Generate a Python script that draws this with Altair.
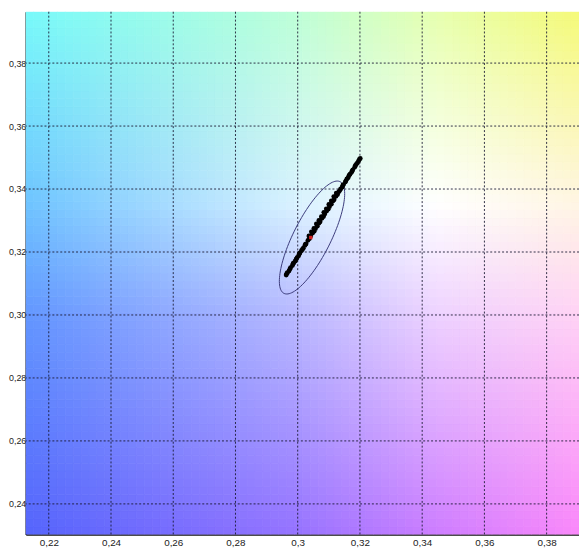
import altair as alt
import numpy as np
import pandas as pd

# ---- axis ranges / ticks ----
X_MIN, X_MAX = 0.2126, 0.3904
Y_MIN, Y_MAX = 0.2303, 0.3963
x_ticks = [0.22, 0.24, 0.26, 0.28, 0.30, 0.32, 0.34, 0.36, 0.38]
y_ticks = [0.24, 0.26, 0.28, 0.30, 0.32, 0.34, 0.36, 0.38]

# ---- measured chromaticity points ----
pts_x = [0.2963, 0.2967, 0.2972, 0.2977, 0.2983, 0.2987, 0.2992, 0.2998, 0.3003, 0.3007,
         0.3012, 0.3018, 0.3023, 0.3027, 0.3033, 0.3038, 0.3042, 0.3048, 0.3053, 0.3057,
         0.3063, 0.3068, 0.3072, 0.3078, 0.3083, 0.3087, 0.3093, 0.3098, 0.3102, 0.3108,
         0.3113, 0.3117, 0.3123, 0.3128, 0.3132, 0.3138, 0.3143, 0.3147, 0.3153, 0.3158,
         0.3162, 0.3168, 0.3173, 0.3177, 0.3183, 0.3188, 0.3192, 0.3198, 0.3201,
         0.3036, 0.3044, 0.3052, 0.3060, 0.3068, 0.3076, 0.3084, 0.3092, 0.3100, 0.3108,
         0.3116, 0.3124,
         0.2965, 0.2975, 0.2985, 0.2995, 0.3005, 0.3015, 0.3025, 0.3135, 0.3145, 0.3155,
         0.3165, 0.3175, 0.3185, 0.3195]
pts_y = [0.3127, 0.3134, 0.3140, 0.3150, 0.3157, 0.3165, 0.3171, 0.3182, 0.3188, 0.3197,
         0.3204, 0.3212, 0.3221, 0.3226, 0.3237, 0.3243, 0.3251, 0.3260, 0.3266, 0.3274,
         0.3282, 0.3291, 0.3296, 0.3307, 0.3313, 0.3321, 0.3330, 0.3336, 0.3344, 0.3352,
         0.3362, 0.3366, 0.3377, 0.3383, 0.3391, 0.3400, 0.3406, 0.3414, 0.3422, 0.3432,
         0.3436, 0.3447, 0.3453, 0.3461, 0.3469, 0.3478, 0.3483, 0.3494, 0.3497,
         0.3251, 0.3264, 0.3275, 0.3289, 0.3300, 0.3312, 0.3326, 0.3337, 0.3351, 0.3362,
         0.3376, 0.3387,
         0.3132, 0.3146, 0.3163, 0.3177, 0.3194, 0.3208, 0.3225, 0.3395, 0.3412, 0.3426,
         0.3443, 0.3457, 0.3474, 0.3488]

# mean point
mean_x = [0.3042]
mean_y = [0.3246]

# ellipse parameters (centre, semi-axes, angle in degrees)
ell_cx, ell_cy = 0.3046, 0.3246
ell_a, ell_b = 0.0199, 0.0060
ell_angle = 63.0

# ---- background colour anchors ----
bg_xs = [X_MIN, 0.30, 0.345, X_MAX]
bg_ys = [Y_MIN, 0.30, 0.335, Y_MAX]
bg_cols = [
    [(85, 100, 252), (150, 115, 255), (205, 125, 255), (250, 135, 250)],
    [(98, 150, 255), (185, 185, 255), (238, 210, 255), (255, 210, 245)],
    [(110, 195, 255), (218, 242, 255), (255, 255, 255), (255, 245, 228)],
    [(120, 250, 250), (190, 255, 215), (230, 255, 175), (245, 250, 120)],
]

cols = np.array(bg_cols, dtype=float)
nx, ny = 70, 66
ex = np.linspace(X_MIN, X_MAX, nx + 1)
ey = np.linspace(Y_MIN, Y_MAX, ny + 1)
rows = []
for j in range(ny):
    yc = 0.5 * (ey[j] + ey[j + 1])
    for i in range(nx):
        xc = 0.5 * (ex[i] + ex[i + 1])
        rgb = np.zeros(3)
        for c in range(3):
            tmp = np.array([np.interp(xc, bg_xs, cols[r, :, c]) for r in range(4)])
            rgb[c] = np.interp(yc, bg_ys, tmp)
        hexc = "#%02x%02x%02x" % tuple(int(round(v)) for v in np.clip(rgb, 0, 255))
        rows.append({"x": ex[i], "x2": ex[i + 1], "y": ey[j], "y2": ey[j + 1], "c": hexc})
bg_df = pd.DataFrame(rows)

t = np.linspace(0, 2 * np.pi, 121)
th = np.deg2rad(ell_angle)
ell_df = pd.DataFrame({
    "x": ell_cx + ell_a * np.cos(t) * np.cos(th) - ell_b * np.sin(t) * np.sin(th),
    "y": ell_cy + ell_a * np.cos(t) * np.sin(th) + ell_b * np.sin(t) * np.cos(th),
    "o": np.arange(len(t)),
})

pts_df = pd.DataFrame({"x": pts_x, "y": pts_y})
mean_df = pd.DataFrame({"x": mean_x, "y": mean_y})
xt_df = pd.DataFrame({"v": x_ticks})
yt_df = pd.DataFrame({"v": y_ticks})

xs = alt.Scale(domain=[X_MIN, X_MAX], nice=False, zero=False)
ys = alt.Scale(domain=[Y_MIN, Y_MAX], nice=False, zero=False)
font = "Liberation Sans"
xaxis = alt.Axis(values=x_ticks, grid=False, ticks=False, labelPadding=3,
                 labelExpr="replace(format(datum.value, '~g'), '.', ',')",
                 labelFont=font, labelFontSize=10, labelColor="#222222",
                 domainColor="#111111", domainWidth=1.5, title=None)
yaxis = alt.Axis(values=y_ticks, grid=False, ticks=False, labelPadding=0,
                 labelExpr="replace(format(datum.value, '.2f'), '.', ',')",
                 labelFont=font, labelFontSize=9, labelColor="#222222",
                 domainColor="#111111", domainWidth=1.5, title=None)

bg = alt.Chart(bg_df).mark_rect(strokeWidth=0.8, clip=True).encode(
    x=alt.X("x:Q", scale=xs, axis=xaxis),
    x2="x2:Q",
    y=alt.Y("y:Q", scale=ys, axis=yaxis),
    y2="y2:Q",
    fill=alt.Fill("c:N", scale=None),
    stroke=alt.Stroke("c:N", scale=None),
)

vgrid = alt.Chart(xt_df).mark_rule(color="#1a1a33", strokeDash=[2, 2], strokeWidth=1, opacity=0.9).encode(
    x=alt.X("v:Q", scale=xs, axis=xaxis)
)
hgrid = alt.Chart(yt_df).mark_rule(color="#1a1a33", strokeDash=[2, 2], strokeWidth=1, opacity=0.9).encode(
    y=alt.Y("v:Q", scale=ys, axis=yaxis)
)

ell = alt.Chart(ell_df).mark_line(color="#3a3a7a", strokeWidth=1, clip=True).encode(
    x=alt.X("x:Q", scale=xs, axis=xaxis),
    y=alt.Y("y:Q", scale=ys, axis=yaxis),
    order="o:Q",
)

pts = alt.Chart(pts_df).mark_circle(color="#000000", size=24, opacity=1).encode(
    x=alt.X("x:Q", scale=xs, axis=xaxis),
    y=alt.Y("y:Q", scale=ys, axis=yaxis),
)

mean = alt.Chart(mean_df).mark_square(color="#d42020", size=12, opacity=1).encode(
    x=alt.X("x:Q", scale=xs, axis=xaxis),
    y=alt.Y("y:Q", scale=ys, axis=yaxis),
)

chart = alt.layer(bg, vgrid, hgrid, ell, pts, mean).properties(
    width=561, height=530,
    autosize=alt.AutoSizeParams(type="none"),
    padding={"left": 18, "top": 0, "right": 0, "bottom": 14},
).configure_view(stroke=None)

chart.save("out.html", embed_options={"renderer": "svg", "actions": False})
